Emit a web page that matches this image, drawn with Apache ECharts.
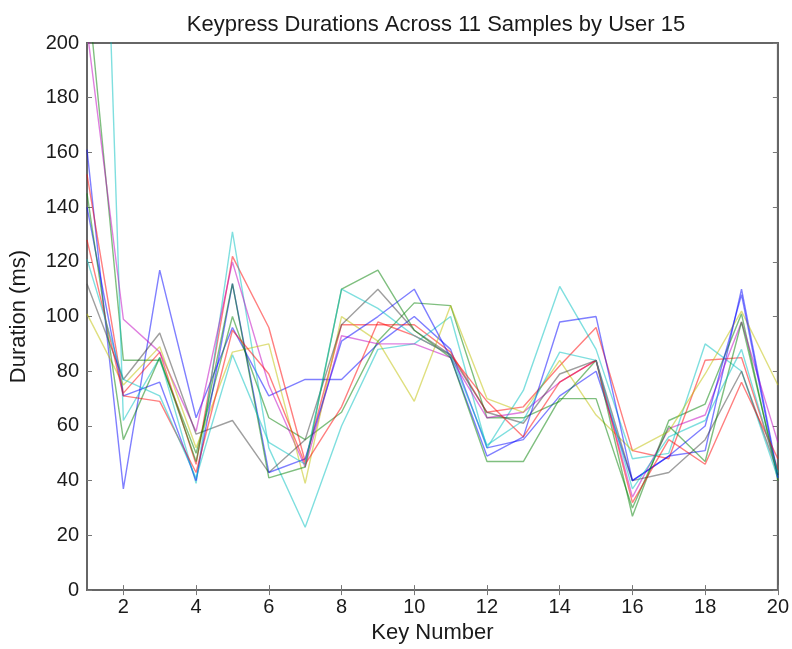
<!DOCTYPE html>
<html><head><meta charset="utf-8">
<script src="https://cdn.jsdelivr.net/npm/echarts@6/dist/echarts.min.js"></script>
<style>html,body{margin:0;padding:0;background:#fff}#c{width:792px;height:649px}</style>
</head><body><div id="c"></div>
<script>
const keys = [1,2,3,4,5,6,7,8,9,10,11,12,13,14,15,16,17,18,19,20];
const xTicks = [2,4,6,8,10,12,14,16,18,20];
const sample1  = [161,37,117,63,96,71,77,77,90,100,88,52,55,71,80,40,49,51,110,42];
const sample2  = [222,84,84,50,100,63,55,65,91,105,104,63,63,69,84,27,62,68,101,40];
const sample3  = [152,72,87,46,122,96,47,97,97,97,87,65,67,82,96,51,48,84,85,44];
const sample4  = [470,62,85,39,131,52,23,60,88,90,100,52,73,111,88,48,50,90,80,41];
const sample5  = [205,99,87,58,120,75,45,93,90,90,85,63,65,76,84,34,59,64,98,54];
const sample6  = [101,75,89,52,87,90,39,100,91,69,104,70,65,84,64,51,58,79,102,75];
const sample7  = [112,77,94,57,62,43,55,97,110,95,86,65,61,79,84,40,43,55,80,43];
const sample8  = [140,71,76,40,112,43,48,91,100,110,85,49,56,98,100,40,49,60,108,41];
const sample9  = [145,55,85,47,112,41,45,110,117,95,85,47,47,70,70,30,60,47,98,42];
const sample10 = [128,71,69,43,95,79,46,67,98,93,86,69,56,76,84,32,55,46,76,48];
const sample11 = [121,77,71,41,86,54,46,110,103,93,86,53,62,87,84,37,56,62,88,43];
const samples = [sample1,sample2,sample3,sample4,sample5,sample6,sample7,sample8,sample9,sample10,sample11];
const colors = ['rgba(0,0,255,0.5)','rgba(0,128,0,0.5)','rgba(255,0,0,0.5)','rgba(0,191,191,0.5)',
  'rgba(191,0,191,0.5)','rgba(191,191,0,0.5)','rgba(64,64,64,0.5)','rgba(0,0,255,0.5)',
  'rgba(0,128,0,0.5)','rgba(255,0,0,0.5)','rgba(0,191,191,0.5)'];
const FONT = '"Liberation Sans", Arial, sans-serif';
const TXT = '#1a1a1a';
const chart = echarts.init(document.getElementById('c'));
const axisLine = {show:true, lineStyle:{color:'#666', width:2}};
const tickStyle = {color:'#777', width:1};
chart.setOption({
  animation:false,
  title:{text:'Keypress Durations Across 11 Samples by User 15', left:431, textAlign:'center', top:9,
    textStyle:{fontFamily:FONT, fontSize:22, fontWeight:'normal', color:TXT}},
  grid:{left:85, right:14, top:43, bottom:57, show:true, borderColor:'#666', borderWidth:2},
  xAxis:[{type:'value', min:1, max:20, position:'bottom', axisLine,
    name:'Key Number', nameLocation:'middle', nameGap:29,
    nameTextStyle:{fontFamily:FONT, fontSize:22, color:TXT},
    axisTick:{show:true, inside:true, length:5, customValues:xTicks, lineStyle:tickStyle},
    axisLabel:{customValues:xTicks, fontFamily:FONT, fontSize:20, color:TXT, margin:7},
    splitLine:{show:false}},
   {type:'value', min:1, max:20, position:'top', axisLine,
    axisTick:{show:true, inside:true, length:5, customValues:xTicks, lineStyle:tickStyle},
    axisLabel:{show:false}, splitLine:{show:false}}],
  yAxis:[{type:'value', min:0, max:200, interval:20, position:'left', axisLine,
    name:'Duration (ms)', nameLocation:'middle', nameGap:57,
    nameTextStyle:{fontFamily:FONT, fontSize:22, color:TXT},
    axisTick:{show:true, inside:true, length:5, lineStyle:tickStyle},
    axisLabel:{fontFamily:FONT, fontSize:20, color:TXT, margin:8},
    splitLine:{show:false}},
   {type:'value', min:0, max:200, interval:20, position:'right', axisLine,
    axisTick:{show:true, inside:true, length:5, lineStyle:tickStyle},
    axisLabel:{show:false}, splitLine:{show:false}}],
  series: samples.map((s,i)=>({type:'line', name:'Sample '+(i+1), data:keys.map((k,j)=>[k,s[j]]),
    showSymbol:false, symbol:'none', clip:true, lineStyle:{color:colors[i], width:1.4}, itemStyle:{color:colors[i]}}))
});
</script></body></html>
